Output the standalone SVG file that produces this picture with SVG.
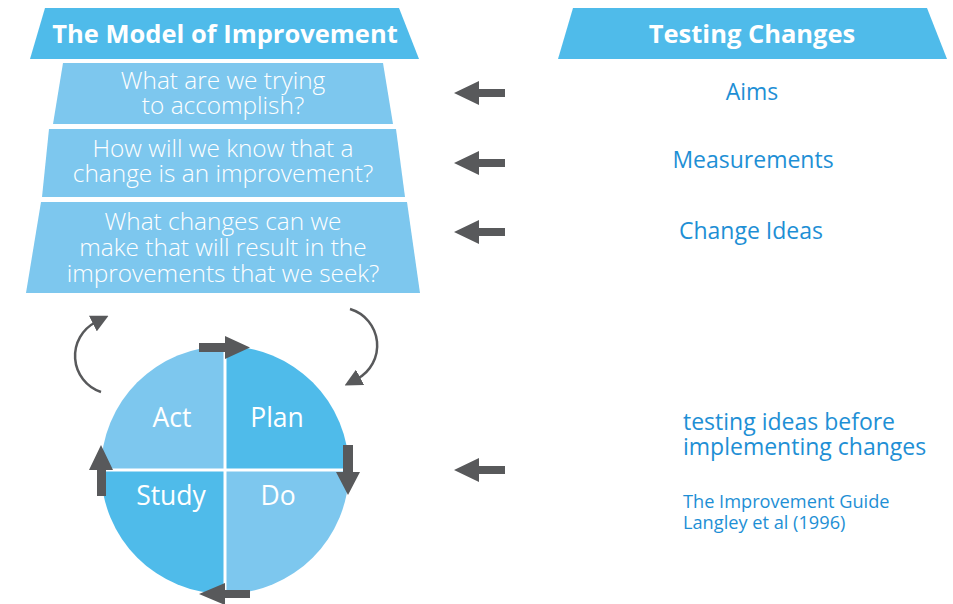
<svg xmlns="http://www.w3.org/2000/svg" width="953" height="604" viewBox="0 0 953 604">
  <style>
    .hdr { fill: #4fbbea; }
    .box { fill: #7dc7ee; }
    .dark { fill: #4fbbea; }
    .light { fill: #7dc7ee; }
    .htxt { font-family: "Open Sans", "Liberation Sans", sans-serif; font-weight: 700; font-size: 25.5px; fill: #ffffff; text-anchor: middle; }
    .qtxt { font-family: "Open Sans", "Liberation Sans", sans-serif; font-weight: 300; font-size: 24.4px; fill: #ffffff; text-anchor: middle; }
    .ctxt { font-family: "Open Sans", "Liberation Sans", sans-serif; font-size: 26.5px; fill: #ffffff; text-anchor: middle; }
    .rtxt { font-family: "Open Sans", "Liberation Sans", sans-serif; font-size: 23px; fill: #1e8fd5; }
    .stxt { font-family: "Open Sans", "Liberation Sans", sans-serif; font-size: 18.2px; fill: #1e8fd5; }
    .blk { fill: #58595b; }
    .arc { fill: none; stroke: #58595b; stroke-width: 2.5; }
  </style>
  <defs>
    <marker id="head" viewBox="0 0 10 10" refX="2" refY="5" markerWidth="7" markerHeight="7" markerUnits="strokeWidth" orient="auto">
      <path d="M0,0 L10,5 L0,10 Z" fill="#58595b"/>
    </marker>
  </defs>

  <!-- left column: model of improvement -->
  <g id="model-header">
    <polygon class="hdr" points="45,8 399,8 419,59 30,59"/>
    <text class="htxt" x="225" y="43">The Model of Improvement</text>
  </g>
  <g id="question-aims">
    <polygon class="box" points="63,63 383,63 393,124 53,124"/>
    <text class="qtxt" x="223" y="89">What are we trying</text>
    <text class="qtxt" x="223" y="114">to accomplish?</text>
  </g>
  <g id="question-measures">
    <polygon class="box" points="49,129 396,129 405,197 42,197"/>
    <text class="qtxt" x="223" y="157">How will we know that a</text>
    <text class="qtxt" x="223" y="182">change is an improvement?</text>
  </g>
  <g id="question-changes">
    <polygon class="box" points="41,202 407,202 420,293 26,293"/>
    <text class="qtxt" x="223" y="230">What changes can we</text>
    <text class="qtxt" x="223" y="256">make that will result in the</text>
    <text class="qtxt" x="223" y="282">improvements that we seek?</text>
  </g>

  <!-- PDSA cycle -->
  <g id="cycle">
    <path class="dark" d="M225,470 L225,346 A124,124 0 0 1 349,470 Z"/>
    <path class="light" d="M225,470 L349,470 A124,124 0 0 1 225,594 Z"/>
    <path class="dark" d="M225,470 L225,594 A124,124 0 0 1 101,470 Z"/>
    <path class="light" d="M225,470 L101,470 A124,124 0 0 1 225,346 Z"/>
    <line x1="225" y1="346" x2="225" y2="594" stroke="#ffffff" stroke-width="3"/>
    <line x1="101" y1="470" x2="349" y2="470" stroke="#ffffff" stroke-width="3"/>
    <text class="ctxt" x="172" y="427">Act</text>
    <text class="ctxt" x="277" y="427">Plan</text>
    <text class="ctxt" x="171" y="505">Study</text>
    <text class="ctxt" x="278" y="505">Do</text>
  </g>

  <!-- right column: testing changes -->
  <g id="testing-header">
    <polygon class="hdr" points="573,8 927,8 947,59 558,59"/>
    <text class="htxt" x="752" y="43">Testing Changes</text>
  </g>
  <g id="aims">
    <text class="rtxt" x="752" y="100" text-anchor="middle">Aims</text>
  </g>
  <g id="measurements">
    <text class="rtxt" x="753" y="168" text-anchor="middle">Measurements</text>
  </g>
  <g id="change-ideas">
    <text class="rtxt" x="751" y="239" text-anchor="middle">Change Ideas</text>
  </g>
  <g id="testing-ideas">
    <text class="rtxt" x="683" y="430">testing ideas before</text>
    <text class="rtxt" x="683" y="455">implementing changes</text>
  </g>
  <g id="reference">
    <text class="stxt" x="683" y="508">The Improvement Guide</text>
    <text class="stxt" x="683" y="529">Langley et al (1996)</text>
  </g>

  <!-- connectors -->
  <g id="connectors">
    <path class="blk" d="M505,89 L479,89 L479,81 L454,93 L479,105 L479,97 L505,97 Z"/>
    <path class="blk" d="M505,159 L479,159 L479,151 L454,163 L479,175 L479,167 L505,167 Z"/>
    <path class="blk" d="M505,228 L479,228 L479,220 L454,232 L479,244 L479,236 L505,236 Z"/>
    <path class="blk" d="M505,466 L479,466 L479,458 L454,470 L479,482 L479,474 L505,474 Z"/>
    <path class="blk" d="M199,343 L225,343 L225,336 L250,347.5 L225,359 L225,352 L199,352 Z"/>
    <path class="blk" d="M343,445 L353,445 L353,472 L360,472 L348,495 L336,472 L343,472 Z"/>
    <path class="blk" d="M250,590 L225,590 L225,583 L199,594 L225,605 L225,598 L250,598 Z"/>
    <path class="blk" d="M97,496 L106,496 L106,470 L113,470 L101,445 L89,470 L97,470 Z"/>
    <path class="arc" d="M101,392 A38,38 0 0 1 96,322" marker-end="url(#head)"/>
    <path class="arc" d="M350,309 A38,38 0 0 1 357,379" marker-end="url(#head)"/>
  </g>
</svg>
